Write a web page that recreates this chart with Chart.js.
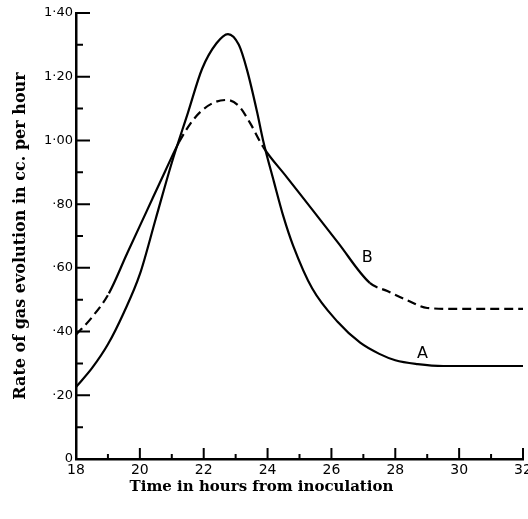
<!DOCTYPE html>
<html>
<head>
<meta charset="utf-8">
<title>Rate of gas evolution</title>
<script src="https://cdn.jsdelivr.net/npm/chart.js@4"></script>
<style>
  html, body { margin: 0; padding: 0; background: #fff; }
  canvas { display: block; }
</style>
</head>
<body>
<canvas id="chartPlaceholder" width="528" height="519"></canvas>
<script>
// curve A (solid all the way)
const hoursA = [18, 18.5, 19, 19.5, 20, 20.5, 21, 21.5, 21.95, 22.4, 22.76, 23.1, 23.36, 23.67, 23.86, 24.2, 24.5, 24.8, 25.4, 26.2, 26.9, 27.5, 28, 28.7, 29.5, 32];
const rateA = [0.226, 0.285, 0.36, 0.46, 0.58, 0.755, 0.93, 1.085, 1.225, 1.305, 1.334, 1.3, 1.22, 1.09, 1.0, 0.87, 0.76, 0.67, 0.535, 0.43, 0.365, 0.33, 0.31, 0.298, 0.292, 0.292];

// curve B (dashed in parts)
const hoursB = [18, 18.5, 19.03, 19.6, 20.2, 20.8, 21.23, 21.6, 21.9, 22.3, 22.73, 23.1, 23.45, 23.86, 24.6, 25.4, 26.2, 27.2, 27.75, 28.38, 29, 30, 32];
const rateB = [0.39, 0.445, 0.52, 0.645, 0.775, 0.905, 0.995, 1.055, 1.09, 1.118, 1.127, 1.108, 1.055, 0.98, 0.885, 0.783, 0.68, 0.553, 0.527, 0.498, 0.474, 0.471, 0.471];
const dashedRangesB = [[18, 19.03], [21.23, 23.86], [27.2, 32]];

const xTickLabels = ["18", "20", "22", "24", "26", "28", "30", "32"];
const yTickLabels = ["0", "\u00b720", "\u00b740", "\u00b760", "\u00b780", "1\u00b700", "1\u00b720", "1\u00b740"];

const curveLabels = [
  { text: "A", hour: 28.85, rate: 0.33 },
  { text: "B", hour: 27.12, rate: 0.63 },
];

const X_TITLE = "Time in hours from inoculation";
const Y_TITLE = "Rate of gas evolution in cc. per hour";

function toPoints(xs, ys) {
  return xs.map((x, i) => ({ x: x, y: ys[i] }));
}

function isDashedB(x) {
  return dashedRangesB.some((r) => x >= r[0] - 1e-6 && x < r[1] - 1e-6);
}

// ticks point into the plot, minor ones shorter
const insideTicks = {
  id: "insideTicks",
  afterDraw(chart) {
    const ctx = chart.ctx;
    const x = chart.scales.x;
    const y = chart.scales.y;
    ctx.save();
    ctx.strokeStyle = "#000";
    ctx.lineWidth = 2;
    ctx.beginPath();
    for (let h = 19; h <= 32; h++) {
      const px = x.getPixelForValue(h);
      const len = h % 2 === 0 ? 11 : 5;
      ctx.moveTo(px, y.bottom);
      ctx.lineTo(px, y.bottom - len);
    }
    for (let i = 1; i <= 14; i++) {
      const py = y.getPixelForValue(i / 10);
      const len = i % 2 === 0 ? 14 : 7;
      ctx.moveTo(x.left, py);
      ctx.lineTo(x.left + len, py);
    }
    ctx.stroke();

    ctx.fillStyle = "#000";
    ctx.font = "16px 'DejaVu Sans'";
    ctx.textAlign = "center";
    ctx.textBaseline = "middle";
    curveLabels.forEach((l) => {
      ctx.fillText(l.text, x.getPixelForValue(l.hour), y.getPixelForValue(l.rate));
    });
    ctx.restore();
  },
};

const ctx = document.getElementById("chartPlaceholder").getContext("2d");
new Chart(ctx, {
  type: "line",
  data: {
    datasets: [
      {
        label: "A",
        data: toPoints(hoursA, rateA),
        borderColor: "#000",
        borderWidth: 2.2,
        pointRadius: 0,
        cubicInterpolationMode: "monotone",
      },
      {
        label: "B",
        data: toPoints(hoursB, rateB),
        borderColor: "#000",
        borderWidth: 2.2,
        pointRadius: 0,
        cubicInterpolationMode: "monotone",
        segment: {
          borderDash: (c) => (isDashedB(c.p0.parsed.x) ? [9, 5] : undefined),
        },
      },
    ],
  },
  options: {
    responsive: false,
    animation: false,
    layout: { padding: { top: 13, right: 5, left: 0, bottom: 0 } },
    scales: {
      x: {
        type: "linear",
        min: 18,
        max: 32,
        grid: { display: false, drawTicks: false },
        border: { display: true, color: "#000", width: 2.5 },
        ticks: {
          stepSize: 2,
          padding: 3,
          color: "#000",
          maxRotation: 0,
          font: { family: "'DejaVu Sans'", size: 14 },
          callback: (v, i) => xTickLabels[i],
        },
        afterFit(s) {
          s.height = 19;
          s.paddingLeft = 0;
          s.paddingRight = 0;
        },
      },
      y: {
        min: 0,
        max: 1.4,
        grid: { display: false, drawTicks: false },
        border: { display: true, color: "#000", width: 2.5 },
        ticks: {
          stepSize: 0.2,
          padding: 3,
          color: "#000",
          font: { family: "'DejaVu Sans'", size: 13 },
          callback: (v, i) => yTickLabels[i],
        },
        title: {
          display: true,
          text: Y_TITLE,
          color: "#000",
          font: { family: "'DejaVu Serif'", size: 16, weight: "bold" },
          padding: { top: 11, bottom: 0 },
        },
        afterFit(s) {
          s.width = 76;
          s.paddingTop = 0;
          s.paddingBottom = 0;
        },
      },
    },
    plugins: {
      legend: { display: false },
      tooltip: { enabled: false },
      subtitle: {
        display: true,
        position: "bottom",
        text: X_TITLE,
        color: "#000",
        font: { family: "'DejaVu Serif'", size: 15, weight: "bold" },
        padding: { top: 0, bottom: 23 },
      },
    },
  },
  plugins: [insideTicks],
});
</script>
</body>
</html>
